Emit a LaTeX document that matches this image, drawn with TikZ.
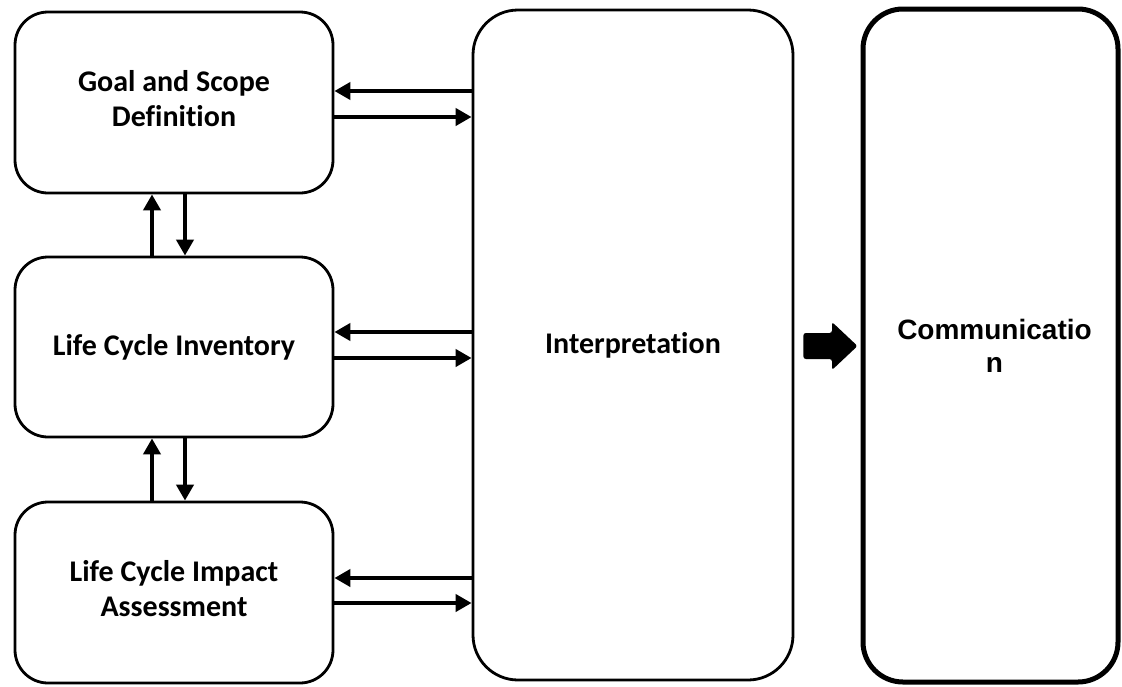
\documentclass[tikz,border=0pt]{standalone}
\usepackage{fontspec}
\setmainfont{Carlito}[Ligatures=NoCommon]
\newfontfamily\arialfont{Liberation Sans}
\usetikzlibrary{arrows.meta}

\begin{document}
\begin{tikzpicture}[x=1pt,y=-1pt,
  stage/.style={draw, line width=2.8pt, rounded corners=33pt, align=center,
    inner sep=0pt, minimum width=318pt,
    font=\bfseries\fontsize{30}{35}\selectfont},
  twoline/.style={text depth=9pt},
  flow/.style={line width=4.8pt, -{Triangle[length=16pt,width=17pt]}}]
\useasboundingbox (0,0) rectangle (1122,686);

% the three phases on the left
\node[stage, twoline, minimum height=181pt] (goal) at (174,102.5) {Goal and Scope\\Definition};
\node[stage, minimum height=180pt] (lci)  at (174,347)   {Life Cycle Inventory};
\node[stage, twoline, minimum height=181pt] (lcia) at (174,592.5) {Life Cycle Impact\\Assessment};

% interpretation column
\node[stage, minimum width=320pt, minimum height=670pt, rounded corners=45pt]
  (interp) at (633,345) {Interpretation};

% communication column
\node[draw, line width=5pt, rounded corners=40pt, align=center, inner sep=0pt,
  minimum width=255pt, minimum height=673pt, text width=230pt,
  font=\arialfont\bfseries\fontsize{28}{33}\selectfont]
  (comm) at (990.5,345.5) {\hspace*{8pt}Communicatio\\\hspace*{8pt}n};

% block arrow towards communication
\fill[rounded corners=2.5pt] ([xshift=9pt]interp.east |- 0,333) -- (832,333) -- (832,322)
  -- ([xshift=-3pt]comm.west |- 0,346) -- (832,370) -- (832,359)
  -- ([xshift=9pt]interp.east |- 0,359) -- cycle;

% exchanges with interpretation
\draw[flow] (interp.west |- 0,91)  -- (goal.east |- 0,91);
\draw[flow] (goal.east |- 0,117)   -- (interp.west |- 0,117);
\draw[flow] (interp.west |- 0,332) -- (lci.east |- 0,332);
\draw[flow] (lci.east |- 0,358)    -- (interp.west |- 0,358);
\draw[flow] (interp.west |- 0,578) -- (lcia.east |- 0,578);
\draw[flow] (lcia.east |- 0,603)   -- (interp.west |- 0,603);

% exchanges between neighbouring phases
\draw[flow] (lci.north -| 152,0)  -- (goal.south -| 152,0);
\draw[flow] (goal.south -| 185,0) -- (lci.north -| 185,0);
\draw[flow] (lcia.north -| 152,0) -- (lci.south -| 152,0);
\draw[flow] (lci.south -| 185,0)  -- (lcia.north -| 185,0);
\end{tikzpicture}
\end{document}
